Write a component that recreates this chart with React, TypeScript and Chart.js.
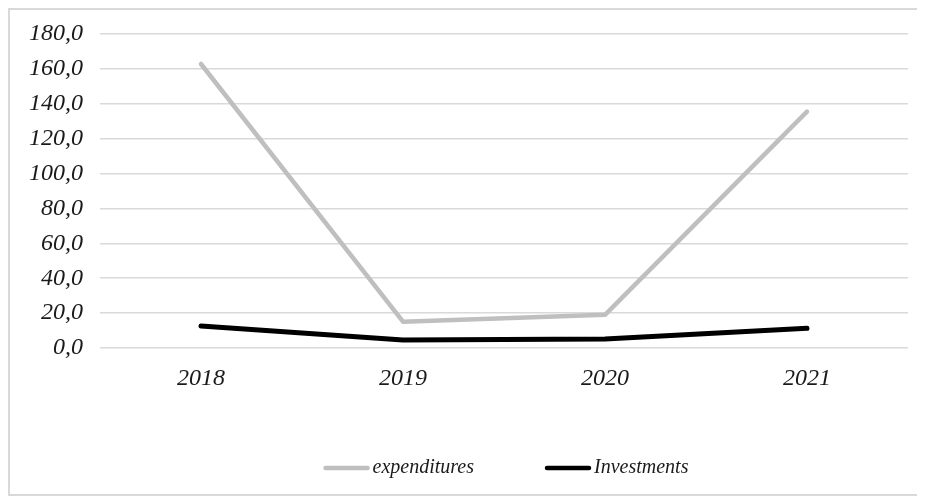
import React, { useEffect, useRef } from "react";
import { Chart, registerables } from "chart.js";

Chart.register(...registerables);

const categories = ["2018", "2019", "2020", "2021"];
const expenditures = [162.8, 15.1, 19.0, 135.5];
const investments = [12.6, 4.6, 5.2, 11.3];
const seriesNames = ["expenditures", "Investments"];
const seriesColors = ["#bfbfbf", "#000000"];

const FONT = "'Liberation Serif', 'Times New Roman', serif";

const legendPlugin = {
  id: "customLegend",
  afterDraw(chart: any) {
    const ctx = chart.ctx;
    const area = chart.chartArea;
    ctx.save();
    ctx.font = `italic 20px ${FONT}`;
    ctx.textBaseline = "middle";
    ctx.textAlign = "left";
    const lineW = 46;
    const gap = 3;
    const spacing = 71;
    const widths = seriesNames.map((n) => ctx.measureText(n).width);
    const total = widths.reduce((a, w) => a + lineW + gap + w, 0) + spacing;
    const cx = (area.left + area.right) / 2 + 2;
    let x = cx - total / 2;
    const y = 458;
    seriesNames.forEach((name, i) => {
      ctx.strokeStyle = seriesColors[i];
      ctx.lineWidth = 4.5;
      ctx.lineCap = "round";
      ctx.beginPath();
      ctx.moveTo(x + 2, y);
      ctx.lineTo(x + lineW - 2, y);
      ctx.stroke();
      ctx.fillStyle = "#1a1a1a";
      ctx.fillText(name, x + lineW + gap, y);
      x += lineW + gap + widths[i] + spacing;
    });
    ctx.restore();
  },
};

export default function App() {
  const ref = useRef<HTMLCanvasElement>(null);
  useEffect(() => {
    if (!ref.current) return;
    const chart = new Chart(ref.current, {
      type: "line",
      data: {
        labels: categories,
        datasets: [
          {
            label: seriesNames[0],
            data: expenditures,
            borderColor: seriesColors[0],
            backgroundColor: seriesColors[0],
            borderWidth: 4.5,
            pointRadius: 0,
            tension: 0,
            borderCapStyle: "round",
            borderJoinStyle: "round",
          },
          {
            label: seriesNames[1],
            data: investments,
            borderColor: seriesColors[1],
            backgroundColor: seriesColors[1],
            borderWidth: 5,
            pointRadius: 0,
            tension: 0,
            borderCapStyle: "round",
            borderJoinStyle: "round",
          },
        ],
      },
      options: {
        animation: false,
        responsive: false,
        maintainAspectRatio: false,
        layout: { padding: { top: 24, right: 9, bottom: 106, left: 0 } },
        plugins: {
          legend: { display: false },
          tooltip: { enabled: false },
        },
        scales: {
          x: {
            offset: true,
            grid: { display: false, drawTicks: false },
            border: { display: false },
            ticks: {
              color: "#1a1a1a",
              font: { family: FONT, style: "italic", size: 24 },
              padding: 16,
            },
            afterFit: (s: any) => {
              s.height = 40;
            },
          },
          y: {
            min: 0,
            max: 180,
            grid: { color: "#d9d9d9", lineWidth: 1.5, drawTicks: false },
            border: { display: false },
            ticks: {
              stepSize: 20,
              color: "#1a1a1a",
              font: { family: FONT, style: "italic", size: 24 },
              padding: 17,
              callback: (v: any) => Number(v).toFixed(1).replace(".", ","),
            },
            afterFit: (s: any) => {
              s.width = 90;
              s.paddingTop = 0;
              s.paddingBottom = 0;
            },
          },
        },
      },
      plugins: [legendPlugin],
    });
    return () => chart.destroy();
  }, []);
  return (
    <div
      style={{
        width: 911,
        height: 488,
        border: "2px solid #d9d9d9",
        boxSizing: "border-box",
        background: "#fff",
      }}
    >
      <canvas ref={ref} width={907} height={484} style={{ display: "block" }} />
    </div>
  );
}
